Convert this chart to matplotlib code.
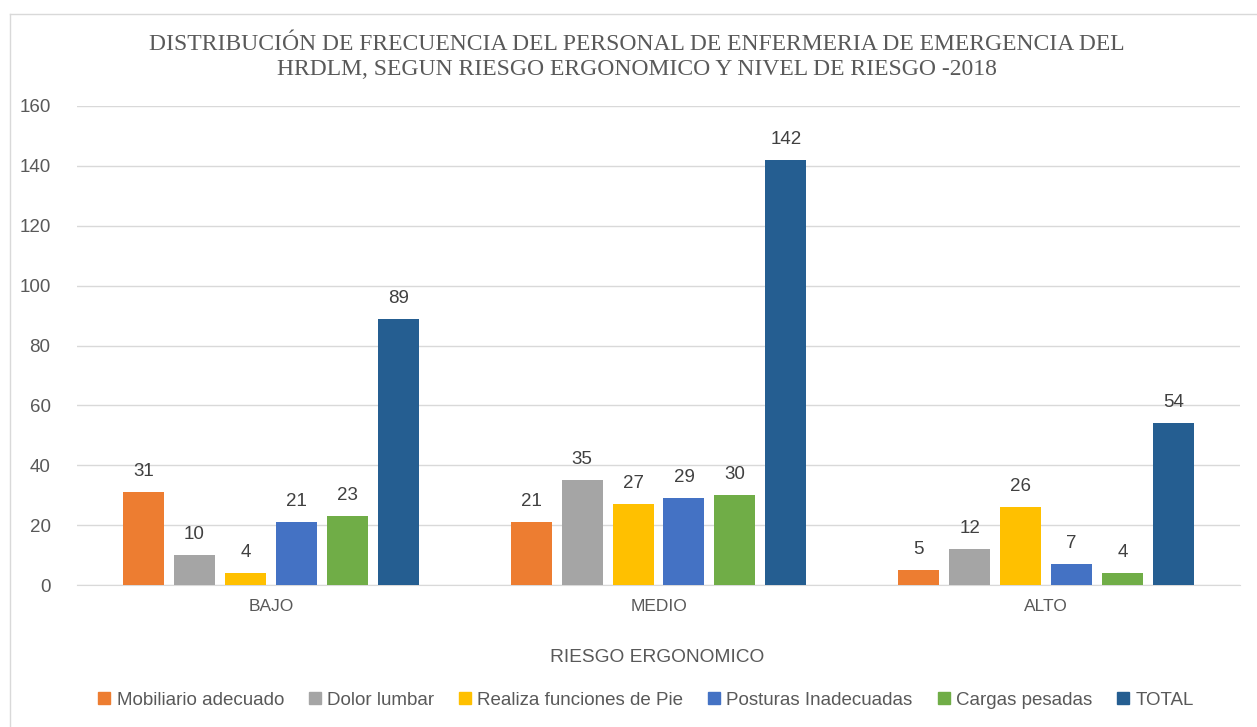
import matplotlib
matplotlib.use("Agg")
import matplotlib.pyplot as plt
import numpy as np
from matplotlib.lines import Line2D

categories = ["BAJO", "MEDIO", "ALTO"]
series_names = ["Mobiliario adecuado", "Dolor lumbar", "Realiza funciones de Pie",
                "Posturas Inadecuadas", "Cargas pesadas", "TOTAL"]
mobiliario = [31, 21, 5]
dolor = [10, 35, 12]
funciones_pie = [4, 27, 26]
posturas = [21, 29, 7]
cargas = [23, 30, 4]
total = [89, 142, 54]
series_values = [mobiliario, dolor, funciones_pie, posturas, cargas, total]
colors = ["#ED7D31", "#A5A5A5", "#FFC000", "#4472C4", "#70AD47", "#255E91"]
yticks = [0, 20, 40, 60, 80, 100, 120, 140, 160]

W, H = 1257, 727
fig = plt.figure(figsize=(W / 100, H / 100), dpi=100)
ax = fig.add_axes([77 / W, 1 - 585 / H, (1240 - 77) / W, (585 - 106) / H])

font = "Liberation Sans"
x = np.arange(len(categories))
step = 51 / 388
width = 41 / 388
for i, (name, vals, c) in enumerate(zip(series_names, series_values, colors)):
    pos = x + (i - 2.5) * step
    bars = ax.bar(pos, vals, width=width, color=c, label=name, zorder=3)
    for b, v in zip(bars, vals):
        ax.text(b.get_x() + b.get_width() / 2, v + 4, str(v), ha="center", va="bottom",
                fontsize=13.5, color="#404040", family=font)

ax.set_xlim(-0.5, 2.5)
ax.set_ylim(0, 160)
ax.set_yticks(yticks)
ax.set_yticklabels([str(t) for t in yticks], fontsize=13.5, color="#595959", family=font)
ax.set_xticks(x)
ax.set_xticklabels(categories, fontsize=12.5, color="#595959", family=font)
ax.tick_params(axis="both", length=0)
ax.tick_params(axis="y", pad=19)
ax.tick_params(axis="x", pad=10)
ax.grid(axis="y", color="#D9D9D9", linewidth=1, zorder=0)
for s in ["top", "right", "left"]:
    ax.spines[s].set_visible(False)
ax.spines["bottom"].set_color("#D9D9D9")
ax.set_facecolor("none")

fig.text(657 / W, 1 - 657 / H, "RIESGO ERGONOMICO", ha="center", va="center",
         fontsize=13.8, color="#595959", family=font)
fig.text(637 / W, 1 - 57 / H,
         "DISTRIBUCIÓN DE FRECUENCIA DEL PERSONAL DE ENFERMERIA DE EMERGENCIA DEL\nHRDLM, SEGUN RIESGO ERGONOMICO Y NIVEL DE RIESGO -2018",
         ha="center", va="center", fontsize=17, color="#595959", family="Liberation Serif",
         linespacing=1.3)

handles = [Line2D([0], [0], marker="s", linestyle="none", markersize=9,
                  markerfacecolor=c, markeredgecolor=c) for c in colors]
fig.legend(handles, series_names, loc="center", bbox_to_anchor=(642 / W, 1 - 700 / H),
           ncol=6, frameon=False, handletextpad=-0.1, columnspacing=0.9, handlelength=1.5,
           prop={"family": font, "size": 13.5}, labelcolor="#595959")

# chart border
fig.add_artist(Line2D([10 / W, 1], [1 - 14 / H, 1 - 14 / H], color="#D9D9D9", linewidth=1,
                      transform=fig.transFigure))
fig.add_artist(Line2D([10 / W, 10 / W], [0, 1 - 14 / H], color="#D9D9D9", linewidth=1,
                      transform=fig.transFigure))

fig.savefig("out.png", dpi=100)
